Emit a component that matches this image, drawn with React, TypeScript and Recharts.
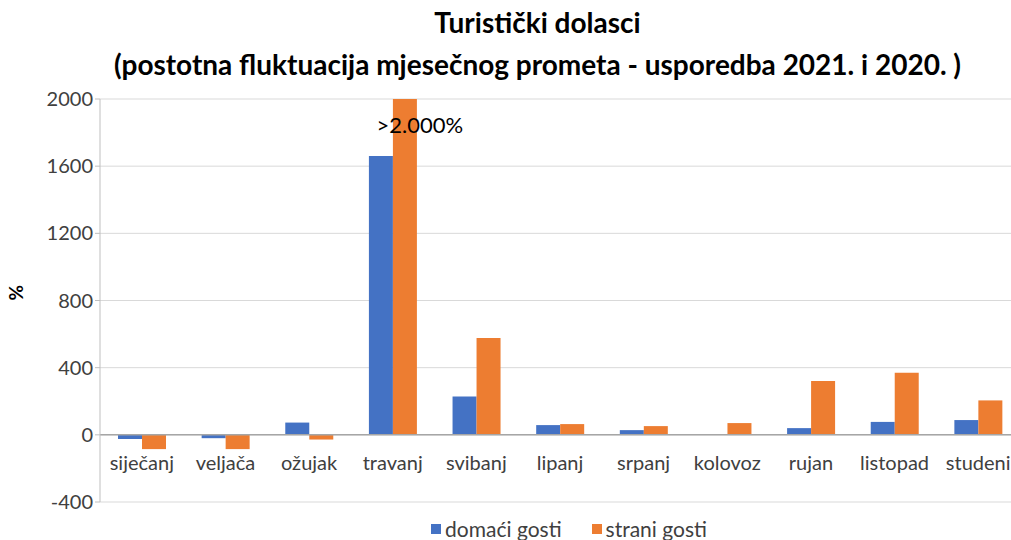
import { BarChart, Bar, XAxis, YAxis, CartesianGrid, ReferenceLine, LabelList } from 'recharts';

const months = ['siječanj', 'veljača', 'ožujak', 'travanj', 'svibanj', 'lipanj', 'srpanj', 'kolovoz', 'rujan', 'listopad', 'studeni'];
const domaci = [-25, -20, 73, 1660, 228, 58, 28, 0, 40, 77, 88];
const strani = [-85, -85, -28, 2000, 577, 64, 52, 70, 320, 369, 205];
const yTicks = [-400, 0, 400, 800, 1200, 1600, 2000];
const notes = ['', '', '', '>2.000%', '', '', '', '', '', '', ''];

const data = months.map((m, i) => ({ month: m, domaci: domaci[i], strani: strani[i], note: notes[i] }));

const FONT = 'Lato, "Liberation Sans", sans-serif';
const TOP = 99;
const BOTTOM = 502;
const Y_MIN = -400;
const Y_MAX = 2000;
const zeroY = TOP + (BOTTOM - TOP) * (Y_MAX / (Y_MAX - Y_MIN));

const MonthTick = (props: any) => {
  const { x, payload } = props;
  return (
    <text x={x} y={zeroY + 35} textAnchor="middle" fontSize={20} fill="#404040" fontFamily={FONT}>
      {payload.value}
    </text>
  );
};

const NoteLabel = (props: any) => {
  const { x, y, width, value } = props;
  if (!value) return null;
  return (
    <text x={x + width / 2 + 15} y={y + 34} textAnchor="middle" fontSize={22} fill="#000" fontFamily={FONT}>
      {value}
    </text>
  );
};

export default function App() {
  return (
    <div style={{ position: 'absolute', left: 0, top: 0, width: 1011, height: 540, overflow: 'hidden', background: '#fff', fontFamily: FONT }}>
      <div style={{ position: 'absolute', left: 0, top: 1, width: 1075, textAlign: 'center', fontWeight: 'bold', fontSize: 28, lineHeight: '42px', color: '#000' }}>
        Turistički dolasci
        <br />
        (postotna fluktuacija mjesečnog prometa - usporedba 2021. i 2020. )
      </div>
      <BarChart width={1036} height={540} data={data} margin={{ top: TOP, right: 16, bottom: 8, left: 0 }} barGap={0} barSize={24}>
        <CartesianGrid vertical={false} stroke="#d9d9d9" />
        <XAxis dataKey="month" height={30} axisLine={false} tickLine={false} tick={<MonthTick />} interval={0} />
        <YAxis
          width={100}
          domain={[Y_MIN, Y_MAX]}
          ticks={yTicks}
          allowDataOverflow
          axisLine={{ stroke: '#bfbfbf' }}
          tickLine={{ stroke: '#bfbfbf' }}
          tickSize={5}
          tick={{ fontSize: 20, fill: '#404040', fontFamily: FONT }}
          label={{ value: '%', angle: -90, position: 'insideLeft', offset: 16, style: { fontWeight: 'bold', fontSize: 19, fill: '#000', fontFamily: FONT } }}
        />
        <ReferenceLine y={0} stroke="#a6a6a6" strokeWidth={1.5} />
        <Bar dataKey="domaci" fill="#4472C4" isAnimationActive={false} />
        <Bar dataKey="strani" fill="#ED7D31" isAnimationActive={false}>
          <LabelList dataKey="note" content={<NoteLabel />} />
        </Bar>
      </BarChart>
      <div style={{ position: 'absolute', left: 0, top: 516, width: 1138, display: 'flex', justifyContent: 'center', gap: 30, fontSize: 21, color: '#404040' }}>
        <span style={{ display: 'flex', alignItems: 'center' }}>
          <span style={{ width: 10, height: 10, background: '#4472C4', marginRight: 4 }} />
          domaći gosti
        </span>
        <span style={{ display: 'flex', alignItems: 'center' }}>
          <span style={{ width: 10, height: 10, background: '#ED7D31', marginRight: 4 }} />
          strani gosti
        </span>
      </div>
    </div>
  );
}
